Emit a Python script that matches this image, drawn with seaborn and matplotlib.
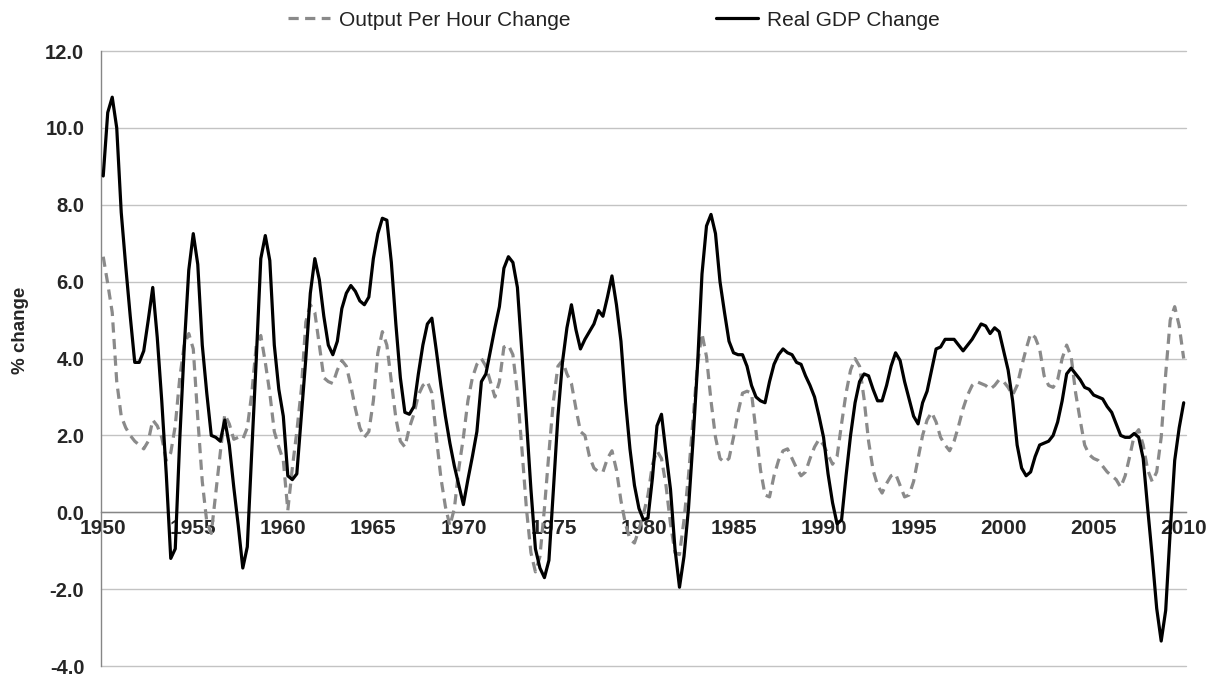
import numpy as np
import pandas as pd
import seaborn as sns
import matplotlib.pyplot as plt

# quarterly % change, one value per quarter, first point labelled 1950
years = [1950, 1955, 1960, 1965, 1970, 1975, 1980, 1985, 1990, 1995, 2000, 2005, 2010]

gdp_change = [
    8.75, 10.4, 10.8, 10.0, 7.8, 6.4, 5.1, 3.9, 3.9, 4.2,
    5.0, 5.85, 4.55, 2.9, 1.0, -1.2, -0.95, 1.9, 4.3, 6.3,
    7.25, 6.45, 4.35, 3.1, 2.0, 1.95, 1.85, 2.4, 1.75, 0.65,
    -0.35, -1.45, -0.9, 1.6, 4.0, 6.6, 7.2, 6.55, 4.35, 3.2,
    2.5, 0.95, 0.85, 1.0, 2.5, 4.0, 5.7, 6.6, 6.05, 5.1,
    4.35, 4.1, 4.45, 5.3, 5.7, 5.9, 5.75, 5.5, 5.4, 5.6,
    6.6, 7.25, 7.65, 7.6, 6.5, 4.9, 3.5, 2.6, 2.55, 2.75,
    3.6, 4.35, 4.9, 5.05, 4.2, 3.3, 2.5, 1.8, 1.2, 0.7,
    0.2, 0.85, 1.45, 2.1, 3.4, 3.6, 4.2, 4.8, 5.35, 6.35,
    6.65, 6.5, 5.85, 4.15, 2.4, 0.6, -0.95, -1.45, -1.7, -1.25,
    0.6, 2.5, 3.9, 4.8, 5.4, 4.75, 4.25, 4.5, 4.7, 4.9,
    5.25, 5.1, 5.6, 6.15, 5.4, 4.45, 2.9, 1.65, 0.7, 0.1,
    -0.2, -0.15, 0.9, 2.25, 2.55, 1.55, 0.6, -0.95, -1.95, -1.15,
    0.1, 1.85, 3.8, 6.2, 7.45, 7.75, 7.25, 6.0, 5.2, 4.45,
    4.15, 4.1, 4.1, 3.8, 3.3, 3.0, 2.9, 2.85, 3.4, 3.85,
    4.1, 4.25, 4.15, 4.1, 3.9, 3.85, 3.55, 3.3, 3.0, 2.5,
    1.95, 1.0, 0.25, -0.3, -0.2, 0.95, 2.0, 2.85, 3.4, 3.6,
    3.55, 3.2, 2.9, 2.9, 3.3, 3.8, 4.15, 3.95, 3.4, 2.95,
    2.5, 2.3, 2.85, 3.15, 3.7, 4.25, 4.3, 4.5, 4.5, 4.5,
    4.35, 4.2, 4.35, 4.5, 4.7, 4.9, 4.85, 4.65, 4.8, 4.7,
    4.2, 3.7, 2.9, 1.75, 1.15, 0.95, 1.05, 1.45, 1.75, 1.8,
    1.85, 2.0, 2.35, 2.9, 3.6, 3.75, 3.6, 3.45, 3.25, 3.2,
    3.05, 3.0, 2.95, 2.75, 2.6, 2.3, 2.0, 1.95, 1.95, 2.05,
    1.95, 1.4, 0.1, -1.15, -2.5, -3.35, -2.55, -0.5, 1.35, 2.2,
    2.85,
]

output_per_hour_change = [
    6.65, 5.95, 5.2, 3.4, 2.5, 2.2, 2.0, 1.85, 1.75, 1.65,
    1.85, 2.4, 2.25, 1.95, 1.35, 1.55, 2.25, 3.5, 4.35, 4.65,
    4.25, 2.45, 0.8, -0.25, -0.55, 0.5, 1.55, 2.55, 2.3, 1.9,
    1.95, 1.9, 2.2, 3.1, 4.35, 4.6, 3.9, 3.1, 2.1, 1.7,
    1.35, 0.05, 1.15, 2.1, 3.2, 4.95, 5.4, 5.2, 4.35, 3.5,
    3.4, 3.35, 3.7, 3.95, 3.8, 3.3, 2.7, 2.2, 1.95, 2.1,
    2.9, 4.15, 4.7, 4.35, 3.4, 2.45, 1.85, 1.7, 2.2, 2.55,
    3.05, 3.3, 3.4, 3.1, 1.95, 0.9, 0.15, -0.35, 0.1, 1.15,
    1.95, 2.9, 3.5, 3.85, 4.0, 3.8, 3.4, 3.0, 3.4, 4.3,
    4.35, 4.1, 3.1, 1.65, 0.1, -1.05, -1.55, -1.15, 0.1, 1.55,
    2.9, 3.8, 3.95, 3.6, 3.35, 2.7, 2.1, 2.0, 1.45, 1.15,
    1.05, 1.05, 1.4, 1.6, 1.1, 0.3, -0.3, -0.7, -0.8, -0.45,
    -0.05, 0.45, 1.25, 1.6, 1.4, 0.7, -0.3, -1.05, -1.1, -0.2,
    0.95, 2.4, 3.85, 4.65, 4.05, 2.9, 1.95, 1.4, 1.3, 1.4,
    1.95, 2.6, 3.1, 3.15, 3.1, 2.1, 1.1, 0.45, 0.4, 0.95,
    1.35, 1.6, 1.65, 1.4, 1.15, 0.95, 1.05, 1.4, 1.7, 1.9,
    1.75, 1.5, 1.25, 1.45, 2.3, 3.1, 3.7, 4.0, 3.8, 2.95,
    1.85, 1.1, 0.7, 0.5, 0.75, 0.95, 1.0, 0.7, 0.4, 0.45,
    0.8, 1.4, 2.0, 2.4, 2.6, 2.35, 1.95, 1.75, 1.6, 1.85,
    2.25, 2.7, 3.05, 3.3, 3.4, 3.35, 3.3, 3.2, 3.3, 3.45,
    3.4, 3.25, 3.05, 3.3, 3.8, 4.25, 4.65, 4.55, 4.25, 3.55,
    3.3, 3.25, 3.45, 4.0, 4.35, 4.05, 3.1, 2.4, 1.75, 1.5,
    1.4, 1.35, 1.2, 1.05, 0.95, 0.85, 0.65, 0.95, 1.45, 2.0,
    2.15, 1.75, 1.1, 0.8, 1.05, 1.95, 3.6, 5.0, 5.35, 4.85,
    4.0,
]

assert len(gdp_change) == len(output_per_hour_change) == 241

quarter = np.arange(len(gdp_change))
df = pd.DataFrame({'quarter': quarter,
                   'Output Per Hour Change': output_per_hour_change,
                   'Real GDP Change': gdp_change})
long = df.melt(id_vars='quarter', var_name='series', value_name='change')

sns.set_style('white')
plt.rcParams['font.family'] = ['Liberation Sans', 'DejaVu Sans']

fig = plt.figure(figsize=(12.21, 6.79), dpi=100)
ax = fig.add_axes([0.0827, 0.0191, 0.8886, 0.9057])

order = ['Output Per Hour Change', 'Real GDP Change']
sns.lineplot(data=long, x='quarter', y='change', hue='series', style='series',
             hue_order=order, style_order=order,
             palette={'Output Per Hour Change': '#8a8a8a', 'Real GDP Change': 'black'},
             dashes={'Output Per Hour Change': (3.2, 2.0), 'Real GDP Change': ''},
             linewidth=2.3, legend=False, ax=ax, zorder=3)

ax.set_xlim(-0.5, 240.5)
ax.set_ylim(-4, 12)

# y axis
ax.set_yticks(np.arange(-4, 13, 2))
ax.set_yticklabels([f'{v:.1f}' for v in np.arange(-4, 13, 2)])
ax.yaxis.grid(True, color='#c3c3c3', lw=1.0)
for gl in ax.get_ygridlines():
    gl.set_clip_on(False)
ax.tick_params(axis='y', length=4, width=0.8, color='#868686', labelsize=14.5, pad=8)
for lbl in ax.get_yticklabels():
    lbl.set_fontweight('bold')

# x axis sits on the zero line
ax.spines['bottom'].set_position(('data', 0))
for s in ['top', 'right']:
    ax.spines[s].set_visible(False)
for s in ['bottom', 'left']:
    ax.spines[s].set_color('#868686')
    ax.spines[s].set_linewidth(1.0)

ax.set_xticks(range(0, 241, 20))
ax.set_xticklabels([str(y) for y in years])
ax.set_xticks(quarter, minor=True)
ax.tick_params(axis='x', which='both', direction='out', length=3.5, width=0.7,
               color='#868686', labelsize=15, pad=1)
for lbl in ax.get_xticklabels():
    lbl.set_fontweight('bold')

ax.set_xlabel('')
ax.set_ylabel('% change', fontsize=13.5, fontweight='bold')
ax.yaxis.set_label_coords(-0.066, 0.546)

handles = ax.get_lines()[:2]
fig.legend(handles, order, loc='upper center', bbox_to_anchor=(0.503, 1.012),
           ncol=2, frameon=False, fontsize=15, handlelength=2.0,
           handletextpad=0.45, columnspacing=7.0, labelcolor='#222222')

fig.savefig('out.png', dpi=100)
